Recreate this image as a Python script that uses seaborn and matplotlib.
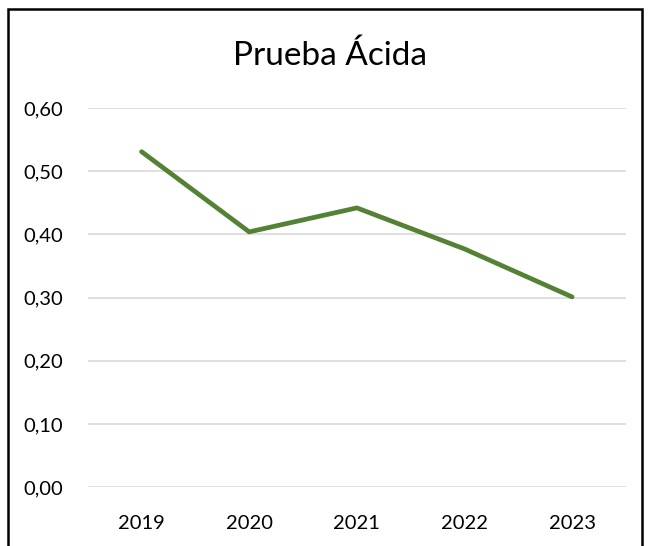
"""Prueba Ácida - line chart recreated with seaborn
"""

import matplotlib
matplotlib.use("Agg")
import matplotlib.pyplot as plt
import matplotlib.ticker as mticker
from matplotlib.patches import Rectangle
import pandas as pd
import seaborn as sns

# data
years = ["2019", "2020", "2021", "2022", "2023"]
ratio = [0.531, 0.404, 0.442, 0.377, 0.301]
title = "Prueba Ácida"

sns.set_theme(style="white")
plt.rcParams["font.family"] = ["Lato", "DejaVu Sans"]

df = pd.DataFrame({"year": years, "ratio": ratio})

fig = plt.figure(figsize=(6.5, 5.46), dpi=100)
ax = fig.add_axes([0.135, 0.108, 0.828, 0.694])

sns.lineplot(
    data=df,
    x="year",
    y="ratio",
    ax=ax,
    color="#548235",
    linewidth=3.4,
    solid_capstyle="round",
    solid_joinstyle="round",
    sort=False,
)

# axis limits and gridlines, excel style
ax.set_xlim(-0.5, len(years) - 0.5)
ax.set_ylim(0, 0.6)
ax.yaxis.set_major_locator(mticker.MultipleLocator(0.1))
ax.yaxis.set_major_formatter(
    mticker.FuncFormatter(lambda v, p: "{:.2f}".format(v).replace(".", ","))
)
ax.grid(axis="y", color="#d9d9d9", linewidth=1.2)
ax.set_axisbelow(True)
for side in ["left", "right", "top", "bottom"]:
    ax.spines[side].set_visible(False)
ax.tick_params(axis="both", length=0, labelsize=14.5, colors="#000000")
ax.tick_params(axis="x", pad=20)
ax.tick_params(axis="y", pad=18)
ax.set_xlabel("")
ax.set_ylabel("")

fig.text(0.508, 0.898, title, ha="center", va="center", fontsize=24, color="#000000")

# chart border (bottom edge falls outside the picture)
fig.patches.append(
    Rectangle(
        (0.013, -0.1), 0.974, 1.084,
        transform=fig.transFigure, fill=False,
        edgecolor="#000000", linewidth=1.8, figure=fig,
    )
)

fig.savefig("out.png", dpi=100)
